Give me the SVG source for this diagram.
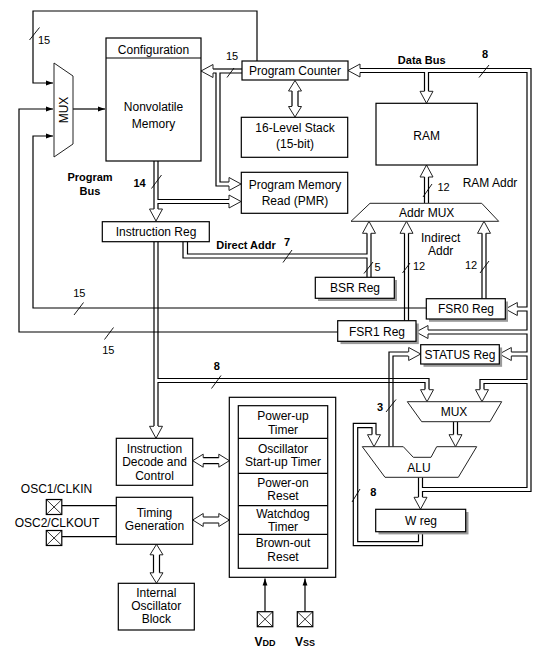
<svg xmlns="http://www.w3.org/2000/svg" xmlns:xlink="http://www.w3.org/1999/xlink" width="557" height="657" viewBox="0 0 557 657">
<style>
.ln{fill:none;stroke:#000;stroke-width:1.2}
.box{fill:#fff;stroke:#000;stroke-width:1.2}
.sh{fill:#9a9a9a;stroke:none}
.shape{fill:#fff;stroke:#222;stroke-width:1}
.head{fill:#fff;stroke:#222;stroke-width:1}
.sl{stroke:#000;stroke-width:0.9}
text{font-family:"Liberation Sans",Arial,sans-serif;font-size:12px;text-anchor:middle;fill:#000}
.b{font-weight:bold;font-size:11px}
.n{font-size:11px}
</style>
<defs>
<path id="hh" class="head" d="M-2,-12 L-6.5,-12 L0,0 L6.5,-12 L2,-12"/>
<path id="dh" class="head" d="M-3,-10.5 L-6.5,-10.5 L0,0 L6.5,-10.5 L3,-10.5"/>
<marker id="fa" markerWidth="8" markerHeight="6" refX="7" refY="3" orient="auto" markerUnits="userSpaceOnUse"><path d="M0,0.6 L7,3 L0,5.4 z" fill="#000"/></marker>
<g id="pin"><rect x="0" y="0" width="15.5" height="15" fill="#fff" stroke="#000" stroke-width="1.2"/><path d="M0,0 L15.5,15 M15.5,0 L0,15" stroke="#000" stroke-width="0.8"/></g>
</defs>
<rect width="557" height="657" fill="#fff"/>

<g id="connectors">
<!-- 15-bit loops to MUX -->
<path class="ln" d="M257,61 V11 H33 V83 H53" marker-end="url(#fa)"/>
<path class="ln" d="M426,308 H33 V136 H53" marker-end="url(#fa)"/>
<path class="ln" d="M338,332 H19 V109 H53" marker-end="url(#fa)"/>
<path class="ln" d="M73,109 H105" marker-end="url(#fa)"/>
<line class="sl" x1="29.5" y1="40" x2="39.5" y2="27.5"/>
<line class="sl" x1="74" y1="315" x2="83.5" y2="302.5"/>
<line class="sl" x1="104.5" y1="339.5" x2="113.5" y2="327.5"/>

<!-- PC to memory and PMR -->
<path class="ln" d="M242,69 H213"/>
<path class="ln" d="M213,73 H216 V186 H229"/>
<path class="ln" d="M242,73 H220 V182 H229"/>
<use xlink:href="#hh" transform="translate(201,71) rotate(90)"/>
<use xlink:href="#hh" transform="translate(241,184) rotate(-90)"/>
<line class="sl" x1="227" y1="77.5" x2="234" y2="68"/>

<!-- program bus -->
<path class="ln" d="M154,161 V209"/>
<path class="ln" d="M158,161 V199.5 H229"/>
<path class="ln" d="M229,203.5 H158 V209"/>
<use xlink:href="#hh" transform="translate(156,221) rotate(0)"/>
<use xlink:href="#hh" transform="translate(241,201.5) rotate(-90)"/>
<line class="sl" x1="151.5" y1="188.5" x2="161.5" y2="175"/>

<!-- PC <-> stack -->
<path class="ln" d="M292,91 V106.5 M298,91 V106.5"/>
<use xlink:href="#dh" transform="translate(295,80.5) rotate(180)"/>
<use xlink:href="#dh" transform="translate(295,117) rotate(0)"/>

<!-- data bus / right bus -->
<path class="ln" d="M360,68.5 H531 V491.5 H422.5 V497"/>
<path class="ln" d="M360,72.5 H424.5 V91.5"/>
<path class="ln" d="M428.5,91.5 V72.5 H527 V307 H517"/>
<path class="ln" d="M517,311 H527 V330 H428"/>
<path class="ln" d="M428,334 H527 V352 H511"/>
<path class="ln" d="M511,356 H527 V379.5 H480 V389.5"/>
<path class="ln" d="M484,389.5 V383.5 H527 V487.5 H422.5 V477.3"/>
<path class="ln" d="M418.5,477.3 V497"/>
<use xlink:href="#hh" transform="translate(348,70.5) rotate(90)"/>
<use xlink:href="#hh" transform="translate(426.5,103.3) rotate(0)"/>
<use xlink:href="#hh" transform="translate(505.3,309) rotate(90)"/>
<use xlink:href="#hh" transform="translate(416,332) rotate(90)"/>
<use xlink:href="#hh" transform="translate(499.3,354) rotate(90)"/>
<use xlink:href="#hh" transform="translate(482,401.7) rotate(0)"/>
<use xlink:href="#hh" transform="translate(420.5,509.3) rotate(0)"/>
<line class="sl" x1="479" y1="77.5" x2="489" y2="65"/>

<!-- Addr MUX to RAM -->
<path class="ln" d="M424.5,203.3 V177 M428.5,203.3 V177"/>
<use xlink:href="#hh" transform="translate(426.5,165) rotate(180)"/>
<line class="sl" x1="423" y1="197" x2="432" y2="184"/>

<!-- direct addr / BSR -->
<path class="ln" d="M187.5,242 V254 H367 V233"/>
<path class="ln" d="M183,242 V258 H367 V277"/>
<path class="ln" d="M371,233 V277"/>
<use xlink:href="#hh" transform="translate(369,221.3) rotate(180)"/>
<line class="sl" x1="283" y1="262.5" x2="292" y2="250"/>
<line class="sl" x1="364" y1="273.5" x2="373" y2="262"/>

<!-- FSR1 / FSR0 to Addr MUX -->
<path class="ln" d="M404.5,321 V233 M408.5,321 V233"/>
<use xlink:href="#hh" transform="translate(406.5,221.3) rotate(180)"/>
<line class="sl" x1="402.5" y1="273" x2="410" y2="263"/>
<path class="ln" d="M482,299 V233 M486,299 V233"/>
<use xlink:href="#hh" transform="translate(484,221.3) rotate(180)"/>
<line class="sl" x1="480" y1="273" x2="489" y2="261"/>

<!-- instruction bus and 8-bit literal bus -->
<path class="ln" d="M154,242 V426"/>
<path class="ln" d="M158,242 V378.5 H429 V389.5"/>
<path class="ln" d="M425,389.5 V382.5 H158 V426"/>
<use xlink:href="#hh" transform="translate(156,438.3) rotate(0)"/>
<use xlink:href="#hh" transform="translate(427,401.7) rotate(0)"/>
<line class="sl" x1="211.5" y1="388.5" x2="221" y2="375.5"/>

<!-- ALU to STATUS -->
<path class="ln" d="M389,446.7 V352 H408.5"/>
<path class="ln" d="M393,446.7 V356 H408.5"/>
<use xlink:href="#hh" transform="translate(420.7,354) rotate(-90)"/>
<line class="sl" x1="386" y1="412" x2="396" y2="399.5"/>

<!-- MUX to ALU -->
<path class="ln" d="M453.5,421.7 V434.7 M457.5,421.7 V434.7"/>
<use xlink:href="#hh" transform="translate(455.5,446.7) rotate(0)"/>

<!-- W feedback -->
<path class="ln" d="M422.5,531.7 V545.7 H353.3 V423.3 H376 V434.7"/>
<path class="ln" d="M418.5,531.7 V541.7 H357.7 V427.7 H372 V434.7"/>
<use xlink:href="#hh" transform="translate(374,446.7) rotate(0)"/>
<line class="sl" x1="352" y1="502" x2="360" y2="489"/>

<!-- double arrows lower left -->
<path class="ln" d="M203,457.7 H219 M203,463.7 H219"/>
<use xlink:href="#dh" transform="translate(192.7,460.7) rotate(90)"/>
<use xlink:href="#dh" transform="translate(229.3,460.7) rotate(-90)"/>
<path class="ln" d="M203,517 H219 M203,523 H219"/>
<use xlink:href="#dh" transform="translate(192.7,520) rotate(90)"/>
<use xlink:href="#dh" transform="translate(229.3,520) rotate(-90)"/>
<path class="ln" d="M153.5,554.5 V573 M159.5,554.5 V573"/>
<use xlink:href="#dh" transform="translate(156.5,544.3) rotate(180)"/>
<use xlink:href="#dh" transform="translate(156.5,583.3) rotate(0)"/>

<!-- oscillator pins -->
<path class="ln" d="M62,505.7 H116.3 M62,536.7 H116.3"/>
<!-- power pins -->
<path class="ln" d="M265,611.7 V578.5" marker-end="url(#fa)"/>
<path class="ln" d="M305,611.7 V578.5" marker-end="url(#fa)"/>
</g>

<g id="mux-pc">
<polygon class="shape" points="54,63 73,76 73,144 54,157"/>
<text transform="translate(68,110) rotate(-90)">MUX</text>
</g>

<g id="nonvolatile-memory">
<rect class="box" x="106" y="38" width="95" height="123"/>
<line class="ln" x1="106" y1="58" x2="201" y2="58"/>
<text x="153.5" y="54">Configuration</text>
<text x="153.5" y="111">Nonvolatile</text>
<text x="153.5" y="128">Memory</text>
</g>

<g id="program-counter">
<rect class="box" x="242" y="61" width="106" height="19"/>
<text x="295" y="75">Program Counter</text>
</g>

<g id="stack">
<rect class="box" x="241.3" y="117.3" width="106.4" height="40"/>
<text x="295" y="132">16-Level Stack</text>
<text x="295" y="148">(15-bit)</text>
</g>

<g id="pmr">
<rect class="box" x="241.3" y="172.3" width="106.4" height="41"/>
<text x="295" y="188.5">Program Memory</text>
<text x="295" y="205">Read (PMR)</text>
</g>

<g id="ram">
<rect class="box" x="376" y="103.3" width="101.3" height="61.7"/>
<text x="426.7" y="139.5">RAM</text>
</g>

<g id="addr-mux">
<polygon class="shape" points="370,203.3 481.7,203.3 498.7,221.3 351,221.3"/>
<text x="426.7" y="216.5">Addr MUX</text>
</g>

<g id="instruction-reg">
<rect class="box" x="102.3" y="221.7" width="107" height="20"/>
<text x="156" y="236">Instruction Reg</text>
</g>

<g id="bsr-reg">
<rect class="sh" x="318" y="280" width="79" height="21"/>
<rect class="box" x="315.3" y="277.3" width="79" height="21"/>
<text x="355" y="292">BSR Reg</text>
</g>

<g id="fsr0-reg">
<rect class="sh" x="429" y="301.5" width="79" height="20.3"/>
<rect class="box" x="426.3" y="298.7" width="79" height="20.3"/>
<text x="466" y="313.3">FSR0 Reg</text>
</g>

<g id="fsr1-reg">
<rect class="sh" x="340.5" y="323.5" width="78.3" height="20.6"/>
<rect class="box" x="337.7" y="320.7" width="78.3" height="20.6"/>
<text x="377" y="335.5">FSR1 Reg</text>
</g>

<g id="status-reg">
<rect class="sh" x="423.5" y="347.5" width="78.6" height="19.3"/>
<rect class="box" x="420.7" y="344.7" width="78.6" height="19.3"/>
<text x="460" y="358.5">STATUS Reg</text>
</g>

<g id="mux-alu">
<polygon class="shape" points="407.3,401.7 501.7,401.7 490,421.7 421.7,421.7"/>
<text x="454" y="415.5">MUX</text>
</g>

<g id="alu">
<polygon class="shape" points="362.3,446.7 403.3,446.7 413.3,457.3 431,457.3 436.7,446.7 476.7,446.7 458.3,477.3 385,477.3"/>
<text x="419" y="472">ALU</text>
</g>

<g id="w-reg">
<rect class="sh" x="378.5" y="512" width="90" height="22.4"/>
<rect class="box" x="375.7" y="509.3" width="90" height="22.4"/>
<text x="421" y="525">W reg</text>
</g>

<g id="instruction-decode">
<rect class="box" x="116.3" y="438.3" width="76.4" height="47"/>
<text x="154.5" y="453">Instruction</text>
<text x="154.5" y="466">Decode and</text>
<text x="154.5" y="479.5">Control</text>
</g>

<g id="timing-generation">
<rect class="box" x="116.3" y="497.3" width="76.4" height="47"/>
<text x="154.5" y="516.5">Timing</text>
<text x="154.5" y="529.5">Generation</text>
</g>

<g id="internal-oscillator">
<rect class="box" x="118.3" y="583.3" width="76" height="46.7"/>
<text x="156.3" y="597">Internal</text>
<text x="156.3" y="610">Oscillator</text>
<text x="156.3" y="623">Block</text>
</g>

<g id="reset-block">
<rect class="box" x="229.3" y="397.3" width="106.4" height="180"/>
<rect class="box" x="238.3" y="405.7" width="89.4" height="162.6"/>
<path class="ln" d="M238.3,438.3 H327.7 M238.3,473.3 H327.7 M238.3,505.7 H327.7 M238.3,534.3 H327.7"/>
<text x="283" y="420">Power-up</text>
<text x="283" y="433.5">Timer</text>
<text x="283" y="452.5">Oscillator</text>
<text x="283" y="466">Start-up Timer</text>
<text x="283" y="486.5">Power-on</text>
<text x="283" y="500">Reset</text>
<text x="283" y="517.5">Watchdog</text>
<text x="283" y="530.5">Timer</text>
<text x="283" y="547">Brown-out</text>
<text x="283" y="561">Reset</text>
</g>

<g id="osc1-pin">
<use xlink:href="#pin" transform="translate(46.3,499.5)"/>
<text x="56.5" y="492.5">OSC1/CLKIN</text>
</g>
<g id="osc2-pin">
<use xlink:href="#pin" transform="translate(46.3,530.5)"/>
<text x="57" y="527">OSC2/CLKOUT</text>
</g>
<g id="vdd-pin">
<use xlink:href="#pin" transform="translate(257.3,611.7)"/>
<text x="265" y="646" style="font-weight:bold">V<tspan style="font-size:9px">DD</tspan></text>
</g>
<g id="vss-pin">
<use xlink:href="#pin" transform="translate(297.3,611.7)"/>
<text x="305" y="646" style="font-weight:bold">V<tspan style="font-size:9px">SS</tspan></text>
</g>

<g id="labels">
<text class="n" x="44" y="43.5">15</text>
<text class="n" x="232" y="60">15</text>
<text class="b" x="139.5" y="187">14</text>
<text class="b" x="90" y="181">Program</text>
<text class="b" x="90" y="195">Bus</text>
<text class="b" x="421.7" y="64">Data Bus</text>
<text class="b" x="485" y="58">8</text>
<text class="n" x="443.5" y="191">12</text>
<text x="490" y="187">RAM Addr</text>
<text class="b" x="246" y="249">Direct Addr</text>
<text class="b" x="287" y="246">7</text>
<text class="n" x="377.5" y="271">5</text>
<text class="n" x="419" y="270">12</text>
<text x="440.7" y="242">Indirect</text>
<text x="440.7" y="254.5">Addr</text>
<text class="n" x="471" y="269">12</text>
<text class="n" x="79.3" y="297">15</text>
<text class="n" x="108.3" y="354">15</text>
<text class="b" x="216.7" y="370">8</text>
<text class="b" x="380" y="411">3</text>
<text class="b" x="373.3" y="496">8</text>
</g>
</svg>
